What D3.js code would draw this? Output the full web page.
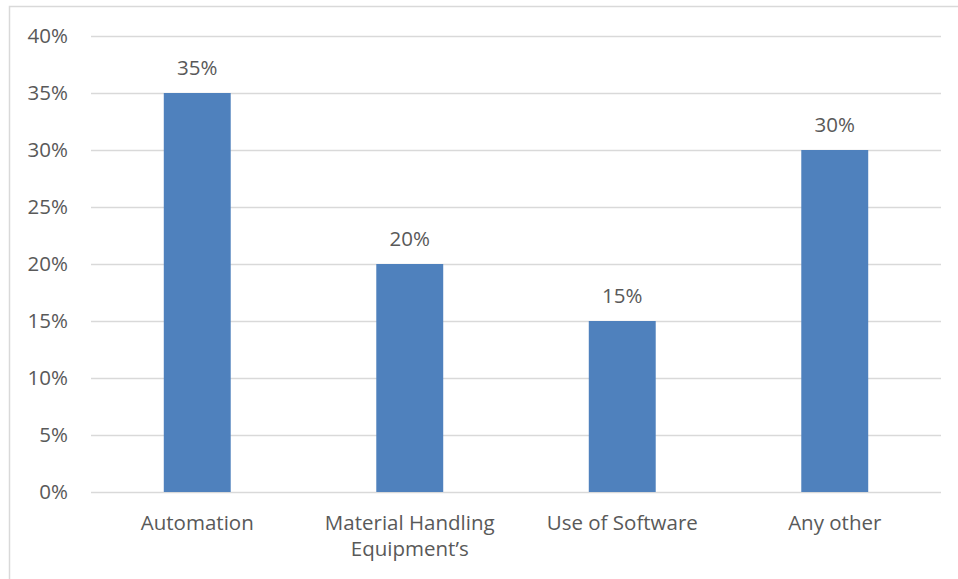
<!DOCTYPE html>
<html><head><meta charset="utf-8">
<script src="https://cdn.jsdelivr.net/npm/d3@7"></script>
<style>body{margin:0;background:#fff;}svg{display:block;}</style>
</head><body>
<svg id="chart" width="958" height="579"></svg>
<script>
const categories = ["Automation", "Material Handling Equipment’s", "Use of Software", "Any other"];
const values = [0.35, 0.20, 0.15, 0.30];
const tickValues = [0, 0.05, 0.10, 0.15, 0.20, 0.25, 0.30, 0.35, 0.40];
const categoryLines = [["Automation"], ["Material Handling", "Equipment’s"], ["Use of Software"], ["Any other"]];

(function () {
const svg = d3.select("#chart");
const font = "'Open Sans', sans-serif";
const fs = "20.5px";
const textColor = "#595959";
const mLeft = 91, mRight = 941, mTop = 36, mBottom = 492;

// outer chart border
svg.append("path").attr("d", "M9.5,579 V6.5 H958").attr("fill", "none").attr("stroke", "#D9D9D9").attr("stroke-width", 1.5);

const x = d3.scaleBand().domain(categories).range([mLeft, mRight]).paddingInner(0.685).paddingOuter(0.3425);
const y = d3.scaleLinear().domain([0, 0.40]).range([mBottom, mTop]);

const yAxis = d3.axisLeft(y).tickValues(tickValues).tickFormat(d3.format(".0%")).tickSize(-(mRight - mLeft)).tickPadding(23);
const gy = svg.append("g").attr("transform", `translate(${mLeft},0)`).call(yAxis);
gy.select(".domain").remove();
gy.selectAll(".tick line").attr("stroke", "#D9D9D9").attr("stroke-width", 1.3);
gy.selectAll(".tick text").attr("fill", textColor).style("font-family", font).style("font-size", fs);

svg.append("g").selectAll("rect").data(values).join("rect")
  .attr("x", (d, i) => x(categories[i])).attr("width", x.bandwidth())
  .attr("y", d => y(d)).attr("height", d => y(0) - y(d))
  .attr("fill", "#4F81BD");

svg.append("g").selectAll("text").data(values).join("text")
  .attr("x", (d, i) => x(categories[i]) + x.bandwidth() / 2)
  .attr("y", d => y(d) - 18)
  .attr("text-anchor", "middle").attr("fill", textColor)
  .style("font-family", font).style("font-size", fs)
  .text(d => d3.format(".0%")(d));

const xl = svg.append("g").selectAll("text").data(categories).join("text")
  .attr("x", d => x(d) + x.bandwidth() / 2)
  .attr("y", 530)
  .attr("text-anchor", "middle").attr("fill", textColor)
  .style("font-family", font).style("font-size", fs);
xl.each(function(d, i) {
  const t = d3.select(this);
  categoryLines[i].forEach((ln, j) => {
    t.append("tspan").attr("x", x(d) + x.bandwidth() / 2).attr("dy", j === 0 ? 0 : 26).text(ln);
  });
});
})();
</script>
</body></html>
